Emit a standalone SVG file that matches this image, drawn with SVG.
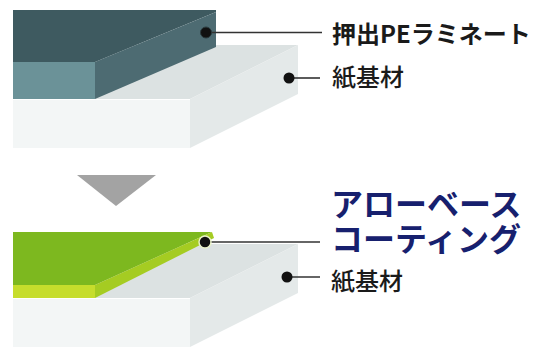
<svg xmlns="http://www.w3.org/2000/svg" width="540" height="347" viewBox="0 0 540 347">
  <style>
    .paper-front { fill: #f3f6f6; }
    .paper-top { fill: #dce2e2; }
    .paper-side { fill: #e4e9e9; }
    .leader { stroke: #333333; stroke-width: 1.6; fill: none; }
    .dot { fill: #111111; }
    .label { font-family: "Noto Sans CJK JP", "Noto Sans", sans-serif; fill: #1a1a1a; }
    .title { font-family: "Noto Sans CJK JP", "Noto Sans", sans-serif; fill: #17206e; font-weight: 700; font-size: 32px; }
  </style>
  <rect width="540" height="347" fill="#ffffff"/>

  <!-- Upper sample: paper board with extruded PE laminate -->
  <g id="pe-board">
    <polygon class="paper-top" points="13,99 190,99 298,45 121,45"/>
    <polygon class="paper-side" points="190,99 298,45 298,94 190,148"/>
    <rect class="paper-front" x="13" y="99" width="177" height="49"/>
    <line x1="13" y1="99.5" x2="190" y2="99.5" stroke="#ffffff" stroke-width="1"/>
    <!-- PE layer -->
    <polygon fill="#3e5a60" points="13,10 216,10 216,12 95,62 13,62"/>
    <polygon fill="#4d6b72" points="95,62 216,12 216,47 95,99"/>
    <rect fill="#6b9298" x="13" y="62" width="82" height="37"/>
  </g>

  <!-- Process arrow -->
  <g id="arrow">
    <polygon fill="#a3a3a3" points="77,175 156,175 116,206"/>
  </g>

  <!-- Lower sample: paper board with Arrow-base coating -->
  <g id="coated-board">
    <polygon class="paper-top" points="13,298 190,298 298,244 121,244"/>
    <polygon class="paper-side" points="190,298 298,244 298,293 190,347"/>
    <rect class="paper-front" x="13" y="298" width="177" height="49"/>
    <line x1="13" y1="298.5" x2="190" y2="298.5" stroke="#ffffff" stroke-width="1"/>
    <!-- coating layer -->
    <polygon fill="#7db81f" points="13,232 212,232 95,285 13,285"/>
    <polygon fill="#a5cc22" points="95,285 212,232 214,238 95,298"/>
    <rect fill="#c6dd2c" x="13" y="285" width="82" height="13"/>
  </g>

  <!-- Leader lines -->
  <g id="connectors">
    <line class="leader" x1="206" y1="32.5" x2="322" y2="32.5"/>
    <circle class="dot" cx="206" cy="32.5" r="5.5" stroke="#2b3b3e" stroke-width="1"/>
    <line class="leader" x1="289" y1="78" x2="320" y2="78"/>
    <circle class="dot" cx="289" cy="78" r="5.5"/>
    <line class="leader" x1="205" y1="242" x2="320" y2="242"/>
    <circle class="dot" cx="205" cy="242" r="6" stroke="#e9f2c8" stroke-width="1.5"/>
    <line class="leader" x1="287" y1="277" x2="320" y2="277"/>
    <circle class="dot" cx="287" cy="277" r="5.5"/>
  </g>

  <!-- Labels -->
  <g id="label-pe">
    <text class="label" x="332" y="43" font-size="24" font-weight="700">押出PEラミネート</text>
  </g>
  <g id="label-paper-top">
    <text class="label" x="332" y="86" font-size="24" font-weight="500">紙基材</text>
  </g>
  <g id="label-coating">
    <text class="title" x="331" y="216">アローベース</text>
    <text class="title" x="331" y="251">コーティング</text>
  </g>
  <g id="label-paper-bottom">
    <text class="label" x="331" y="290" font-size="24" font-weight="500">紙基材</text>
  </g>
</svg>
